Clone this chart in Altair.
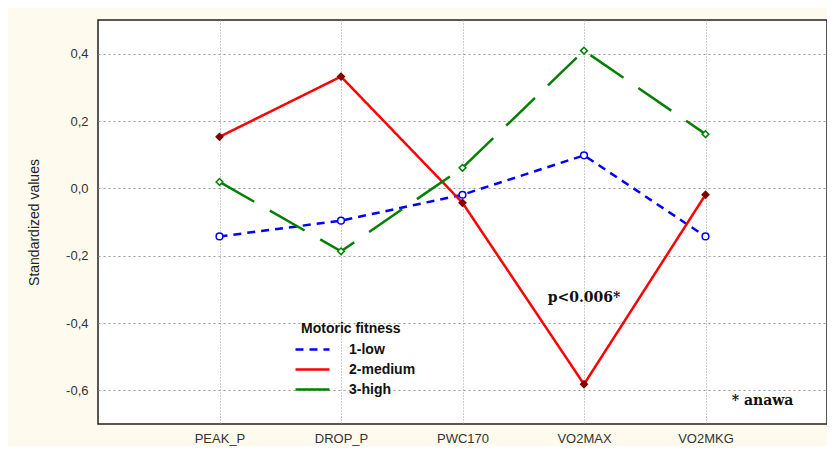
import altair as alt
import pandas as pd

variables = ["PEAK_P", "DROP_P", "PWC170", "VO2MAX", "VO2MKG"]
groups = ["1-low", "2-medium", "3-high"]
low = [-0.143, -0.096, -0.019, 0.098, -0.143]
medium = [0.153, 0.332, -0.043, -0.582, -0.019]
high = [0.019, -0.187, 0.061, 0.409, 0.161]

rows = []
for g, vals in zip(groups, [low, medium, high]):
    for v, val in zip(variables, vals):
        rows.append({"variable": v, "group": g, "value": val})
df = pd.DataFrame(rows)

notes = pd.DataFrame({
    "variable": ["VO2MAX", "VO2MKG"],
    "value": [-0.325, -0.633],
    "label": ["p<0.006*", "* anawa"],
    "shift": [0, 57],
})

line_colors = ["#0000FF", "#FF0000", "#008000"]
marker_colors = ["#0000FF", "#800000", "#008000"]
marker_fill = ["white", "#800000", "white"]

x_enc = alt.X("variable:N", sort=variables, title=None,
              scale=alt.Scale(type="point", padding=1),
              axis=alt.Axis(labelAngle=0, labelFontSize=13, labelColor="#333",
                            labelFont="Liberation Sans", ticks=False, domain=False,
                            grid=True, gridDash=[1, 2], gridColor="#999",
                            labelPadding=8))
y_enc = alt.Y("value:Q", title="Standardized values",
              scale=alt.Scale(domain=[-0.7, 0.5], nice=False),
              axis=alt.Axis(values=[-0.6, -0.4, -0.2, 0.0, 0.2, 0.4],
                            labelExpr="replace(replace(format(datum.value, '.1f'), '.', ','), '\u2212', '-')",
                            labelFontSize=13, labelColor="#333", labelFont="Liberation Sans",
                            titleFontSize=14, titleFontWeight="normal", titleFont="Liberation Sans",
                            titleColor="#222", titlePadding=24,
                            ticks=False, domain=False, grid=True, gridDash=[2, 3],
                            gridColor="#999", labelPadding=10))

legend_cfg = dict(title="Motoric fitness", orient="none",
                  legendX=203, legendY=302,
                  titleFontSize=14, titleFontWeight="bold",
                  titleFont="Liberation Sans", titleColor="#111",
                  labelFontSize=14, labelFontWeight="bold",
                  labelFont="Liberation Sans", labelColor="#111",
                  symbolType="M-1.7,0L1.7,0", symbolSize=400,
                  symbolStrokeWidth=2.5, rowPadding=1,
                  labelOffset=25, titlePadding=2)

lines = alt.Chart(df).mark_line(strokeWidth=2.5).encode(
    x=x_enc, y=y_enc,
    color=alt.Color("group:N", scale=alt.Scale(domain=groups, range=line_colors),
                    legend=alt.Legend(**legend_cfg)),
    strokeDash=alt.StrokeDash("group:N", scale=alt.Scale(domain=groups,
                              range=[[8, 6], [1, 0], [40, 18]]),
                              legend=alt.Legend(**legend_cfg)),
)

points = alt.Chart(df).mark_point(size=45, strokeWidth=1.5, opacity=1, filled=False).encode(
    x=x_enc, y=y_enc,
    stroke=alt.Stroke("group:N", scale=alt.Scale(domain=groups, range=marker_colors), legend=None),
    fill=alt.Fill("group:N", scale=alt.Scale(domain=groups, range=marker_fill), legend=None),
    shape=alt.Shape("group:N", scale=alt.Scale(domain=groups, range=["circle", "diamond", "diamond"]), legend=None),
)

texts = alt.Chart(notes).mark_text(font="DejaVu Serif", fontWeight="bold", fontSize=14,
                                   color="#111", align="center").encode(
    x=x_enc, y=y_enc, text="label:N",
    xOffset=alt.XOffset("shift:Q", scale=None),
)

chart = alt.layer(lines, points, texts).resolve_scale(
    stroke="independent", fill="independent", shape="independent"
).resolve_legend(
    stroke="independent", fill="independent", shape="independent"
).properties(
    width=729, height=404,
    autosize=alt.AutoSizeParams(type="none"),
    padding={"left": 90, "top": 12, "right": 0, "bottom": 22},
    background="#FEFBEE",
).configure_view(fill="white", stroke="#222", strokeWidth=1.5)

chart.save("out.html", embed_options={"renderer": "svg", "actions": False})
